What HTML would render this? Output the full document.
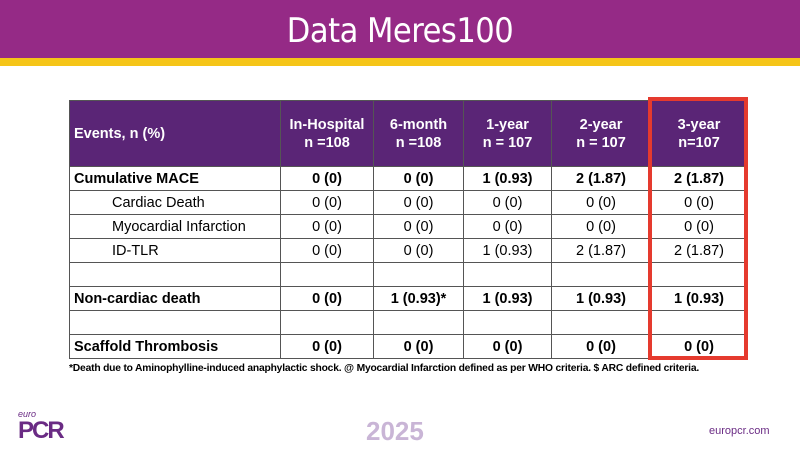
<!DOCTYPE html>
<html><head><meta charset="utf-8"><style>
body{margin:0;width:800px;height:450px;position:relative;background:#fff;font-family:"Liberation Sans",Arial,sans-serif;overflow:hidden}
.hdr{position:absolute;left:0;top:0;width:800px;height:58px;background:#952a86}
.hdr h1{margin:0;font-weight:normal;color:#fff;font-size:34px;text-align:center;line-height:62px;font-family:"DejaVu Sans Condensed","Liberation Sans Narrow","Liberation Sans",sans-serif;letter-spacing:-0.5px}
.ybar{position:absolute;left:0;top:58px;width:800px;height:8px;background:#f5c518}
table{position:absolute;left:69px;top:100px;border-collapse:collapse;table-layout:fixed;width:678px}
td,th{border:1px solid #555;font-size:14.5px;height:23px;padding:0;text-align:center;color:#000;white-space:nowrap;overflow:hidden}
th{background:#5a2576;color:#fff;font-weight:bold;height:65px;line-height:18px}
th.first{text-align:left;padding-left:4px}
td.l{text-align:left;padding-left:4px}
td.i{text-align:left;padding-left:42px}
tr.b td{font-weight:bold}
.red{position:absolute;left:648px;top:97px;width:92px;height:255px;border:4px solid #e53a2e}
.foot{position:absolute;left:69px;top:363px;font-size:10.3px;font-weight:bold;font-family:"Liberation Sans Narrow","Liberation Sans",sans-serif;letter-spacing:-0.2px}
.logo{position:absolute;left:18px;top:410px;color:#6a2b84}
.y2025{position:absolute;left:366px;top:416px;font-size:26px;color:#c9b5d6;font-weight:bold}
.url{position:absolute;left:709px;top:425px;font-size:11px;color:#6a2b84}
</style></head><body>
<div class="hdr"><h1>Data Meres100</h1></div>
<div class="ybar"></div>
<table>
<colgroup><col style="width:211px"><col style="width:93px"><col style="width:90px"><col style="width:88px"><col style="width:99px"><col style="width:97px"></colgroup>
<tr><th class="first">Events, n (%)</th><th>In-Hospital<br>n =108</th><th>6-month<br>n =108</th><th>1-year<br>n = 107</th><th>2-year<br>n = 107</th><th>3-year<br>n=107</th></tr>
<tr class="b"><td class="l">Cumulative MACE</td><td>0 (0)</td><td>0 (0)</td><td>1 (0.93)</td><td>2 (1.87)</td><td>2 (1.87)</td></tr>
<tr><td class="i">Cardiac Death</td><td>0 (0)</td><td>0 (0)</td><td>0 (0)</td><td>0 (0)</td><td>0 (0)</td></tr>
<tr><td class="i">Myocardial Infarction</td><td>0 (0)</td><td>0 (0)</td><td>0 (0)</td><td>0 (0)</td><td>0 (0)</td></tr>
<tr><td class="i">ID-TLR</td><td>0 (0)</td><td>0 (0)</td><td>1 (0.93)</td><td>2 (1.87)</td><td>2 (1.87)</td></tr>
<tr><td></td><td></td><td></td><td></td><td></td><td></td></tr>
<tr class="b"><td class="l">Non-cardiac death</td><td>0 (0)</td><td>1 (0.93)*</td><td>1 (0.93)</td><td>1 (0.93)</td><td>1 (0.93)</td></tr>
<tr><td></td><td></td><td></td><td></td><td></td><td></td></tr>
<tr class="b"><td class="l">Scaffold Thrombosis</td><td>0 (0)</td><td>0 (0)</td><td>0 (0)</td><td>0 (0)</td><td>0 (0)</td></tr>
</table>
<div class="red"></div>
<div class="foot">*Death due to Aminophylline-induced anaphylactic shock. @ Myocardial Infarction defined as per WHO criteria. $ ARC defined criteria.</div>
<div class="logo"><div style="font-size:9px;font-style:italic;line-height:9px">euro</div><div style="font-size:24px;font-weight:bold;line-height:24px;letter-spacing:-2px">PCR</div></div>
<div class="y2025">2025</div>
<div class="url">europcr.com</div>
</body></html>
